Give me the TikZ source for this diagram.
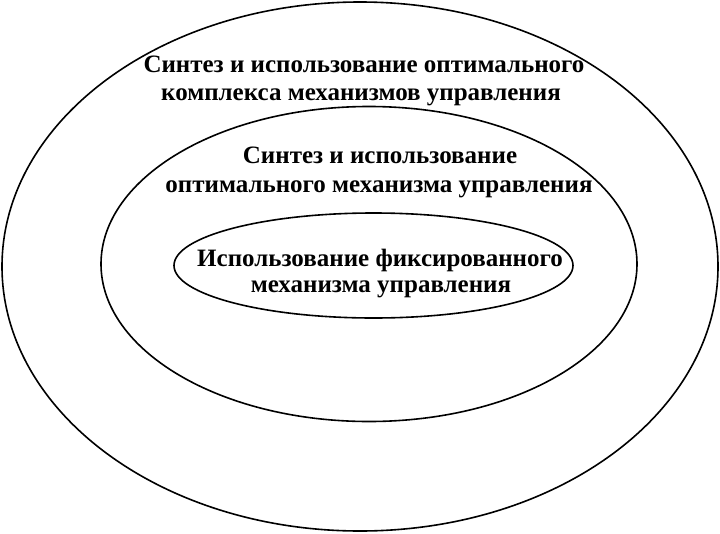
\documentclass[tikz,border=0pt]{standalone}
\usepackage{fontspec}
\setmainfont{Liberation Serif}
\usetikzlibrary{shapes.geometric}
\tikzset{
  ring/.style={draw=black, line width=1.6pt, ellipse, inner sep=0pt, outer sep=0pt},
  lbl/.style={anchor=base, inner sep=0pt, font=\fontsize{25}{30}\selectfont\bfseries}
}
\begin{document}
\begin{tikzpicture}[x=1pt,y=-1pt]
\useasboundingbox (0,0) rectangle (720,533);
\node[ring, minimum width=716pt, minimum height=529pt] (outer) at (360,266.5) {};
\node[ring, minimum width=536pt, minimum height=315pt] (middle) at (369,264) {};
\node[ring, minimum width=399pt, minimum height=105pt] (inner) at (373.5,265.5) {};
\node[lbl] (o1) at (364,72) {Синтез и использование оптимального};
\node[lbl] (o2) at (361,100) {комплекса механизмов управления};
\node[lbl] (m1) at (380,163) {Синтез и использование};
\node[lbl] (m2) at (379,192) {оптимального механизма управления};
\node[lbl] (i1) at (380,266) {Использование фиксированного};
\node[lbl] (i2) at (381,292) {механизма управления};
\end{tikzpicture}
\end{document}
